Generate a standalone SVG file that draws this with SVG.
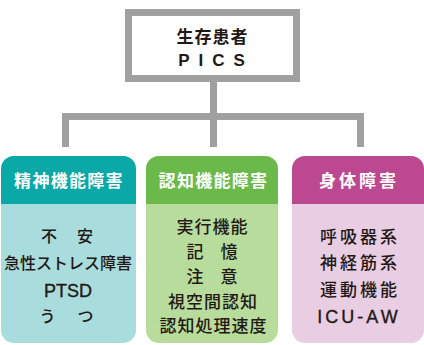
<svg xmlns="http://www.w3.org/2000/svg" width="424" height="345" viewBox="0 0 424 345">
<style>
.hd{font-family:"Noto Sans CJK JP","Noto Sans",sans-serif;font-weight:bold;font-size:17px;fill:#fff;text-anchor:middle;letter-spacing:1.3px}
.bd{font-family:"Noto Sans CJK JP","Noto Sans",sans-serif;font-weight:500;font-size:17px;fill:#231815;text-anchor:middle}
.lt{font-family:"Liberation Sans","Noto Sans",sans-serif;font-size:18px;fill:#231815;text-anchor:middle;stroke:#231815;stroke-width:0.35}
.con{fill:none;stroke:#a0a0a0;stroke-width:7;stroke-linejoin:miter;stroke-linecap:butt}
</style>
<g id="connectors">
<path class="con" d="M213.5,82 V147"/>
<path class="con" d="M65.5,147 V116.5 H360.5 V147"/>
</g>
<g id="root">
<rect x="128.5" y="12.5" width="168" height="66" fill="#fff" stroke="#a0a0a0" stroke-width="7"/>
<text class="bd" x="212.5" y="43" style="font-weight:bold;letter-spacing:1px">生存患者</text>
<text class="lt" x="216" y="66" style="font-weight:bold;font-size:17px;letter-spacing:9px;stroke:none">PICS</text>
</g>
<g id="mental">
<rect x="1" y="156" width="135" height="187" rx="13" fill="#a9dcdc"/>
<path d="M1,204 V169 A13,13 0 0 1 14,156 H123 A13,13 0 0 1 136,169 V204 Z" fill="#0aa8a6"/>
<text class="hd" x="69" y="187">精神機能障害</text>
<text class="bd" x="68" y="242" style="font-size:16px;letter-spacing:2px">不　安</text>
<text class="bd" x="68" y="269" style="font-size:16px">急性ストレス障害</text>
<text class="lt" x="68" y="297">PTSD</text>
<text class="bd" x="68" y="322" style="font-size:16px;letter-spacing:3px">う　つ</text>
</g>
<g id="cognitive">
<rect x="146" y="156" width="132" height="187" rx="13" fill="#b8dc9c"/>
<path d="M146,204 V169 A13,13 0 0 1 159,156 H265 A13,13 0 0 1 278,169 V204 Z" fill="#6bb94b"/>
<text class="hd" x="213.5" y="187">認知機能障害</text>
<text class="bd" x="212.5" y="233" style="letter-spacing:1px">実行機能</text>
<text class="bd" x="212" y="258">記　憶</text>
<text class="bd" x="212" y="283">注　意</text>
<text class="bd" x="213" y="308" style="letter-spacing:1px">視空間認知</text>
<text class="bd" x="213.5" y="332" style="letter-spacing:1px">認知処理速度</text>
</g>
<g id="physical">
<rect x="292" y="156" width="132" height="187" rx="13" fill="#e8cde3"/>
<path d="M292,204 V169 A13,13 0 0 1 305,156 H411 A13,13 0 0 1 424,169 V204 Z" fill="#bd4892"/>
<text class="hd" x="359" y="187" style="letter-spacing:3px">身体障害</text>
<text class="bd" x="360" y="243" style="letter-spacing:3px">呼吸器系</text>
<text class="bd" x="360" y="269" style="letter-spacing:3px">神経筋系</text>
<text class="bd" x="360" y="296" style="letter-spacing:3px">運動機能</text>
<text class="lt" x="359" y="323" style="letter-spacing:3px">ICU-AW</text>
</g>
</svg>
